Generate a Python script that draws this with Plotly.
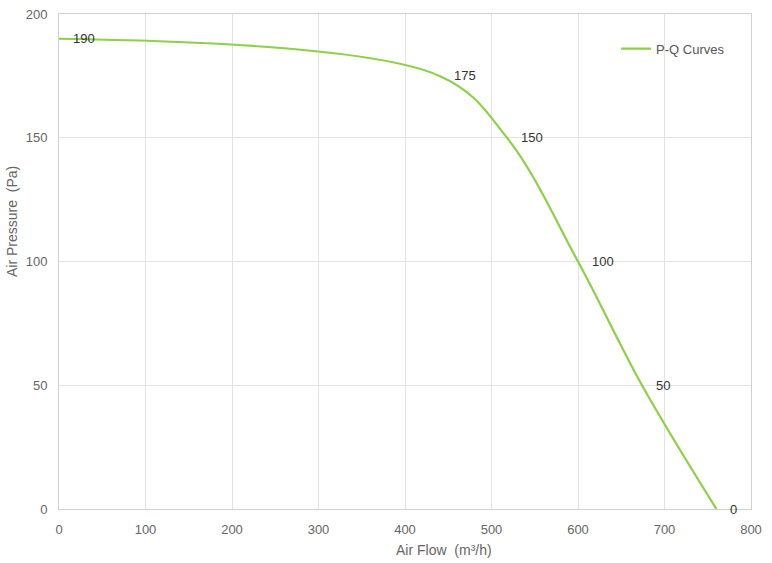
import plotly.graph_objects as go

# P-Q curve points
air_flow = [0, 440, 518, 600, 674, 760]
air_pressure = [190, 175, 150, 100, 50, 0]
point_labels = ["190", "175", "150", "100", "50", "0"]

x_ticks = [0, 100, 200, 300, 400, 500, 600, 700, 800]
y_ticks = [0, 50, 100, 150, 200]

line_color = "#8cd146"
grid_color = "#e3e3e3"
axis_color = "#d0d0d0"
font_family = "Liberation Sans, Arial, sans-serif"

fig = go.Figure()
fig.add_trace(go.Scatter(
    x=air_flow, y=air_pressure,
    mode="lines",
    name="P-Q Curves",
    hoverinfo="skip",
    line=dict(color=line_color, width=2.2, shape="spline", smoothing=1.0),
))

# value labels sit to the right of each point
for x, y, t in zip(air_flow, air_pressure, point_labels):
    fig.add_annotation(x=x, y=y, text=t, showarrow=False,
                       xanchor="left", yanchor="middle", xshift=12,
                       font=dict(size=13, color="#333333", family=font_family))

# white patch behind the legend (hides the 700 gridline like the original)
fig.add_shape(type="rect", xref="paper", yref="paper", layer="between",
              x0=0.78, x1=0.985, y0=0.862, y1=0.994,
              fillcolor="white", line=dict(width=0))

fig.add_annotation(text="Air Flow  (m³/h)", xref="paper", yref="paper",
                   x=(443.5 - 59) / 692, y=-(550 - 509) / 495,
                   xanchor="center", yanchor="middle", showarrow=False,
                   font=dict(size=14, color="#666666", family=font_family))
fig.add_annotation(text="Air Pressure  (Pa)", xref="paper", yref="paper",
                   x=-(59 - 12) / 692, y=(509 - 222) / 495, textangle=-90,
                   xanchor="center", yanchor="middle", showarrow=False,
                   font=dict(size=14, color="#666666", family=font_family))

fig.update_xaxes(range=[0, 800], tickvals=x_ticks, showgrid=True,
                 gridcolor=grid_color, gridwidth=1, zeroline=False,
                 showline=True, linecolor=axis_color, linewidth=1, mirror=True,
                 ticks="", ticklabelstandoff=8, automargin=False,
                 tickfont=dict(size=13, color="#666666", family=font_family))
fig.update_yaxes(range=[0, 200], tickvals=y_ticks, showgrid=True,
                 gridcolor=grid_color, gridwidth=1, zeroline=False,
                 showline=True, linecolor=axis_color, linewidth=1, mirror=True,
                 ticks="", ticklabelstandoff=8, automargin=False,
                 tickfont=dict(size=13, color="#666666", family=font_family))

fig.update_layout(
    width=772, height=563,
    margin=dict(l=59, r=21, t=14, b=54, autoexpand=False),
    paper_bgcolor="white", plot_bgcolor="white",
    showlegend=True,
    legend=dict(x=0.805, y=0.93, xanchor="left", yanchor="middle",
                bgcolor="rgba(0,0,0,0)",
                font=dict(size=13, color="#555555", family=font_family)),
    font=dict(family=font_family),
)

# drop the default 8px body margin so the figure fills the window
fig.write_html("out.html", config={"displayModeBar": False},
               post_script="document.body.style.margin='0';")
